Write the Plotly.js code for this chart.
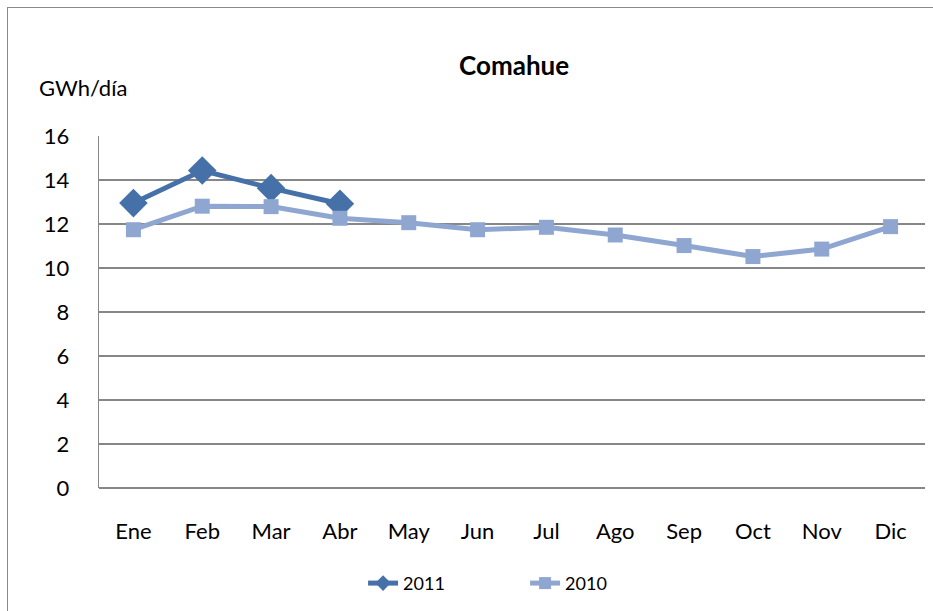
<!DOCTYPE html>
<html>
<head>
<meta charset="utf-8">
<script src="https://cdn.plot.ly/plotly-3.0.1.min.js"></script>
<style>
  html, body { margin: 0; padding: 0; background: #fff; overflow: hidden; }
  #wrap { position: relative; width: 933px; height: 611px; }
  #frame { position: absolute; left: 7px; top: 7px; width: 1000px; height: 700px;
           border-top: 1.5px solid #8a8a8a; border-left: 1.5px solid #8a8a8a; pointer-events: none; z-index: 5; }
  #chart { position: absolute; left: 0; top: 0; width: 933px; height: 611px; }
</style>
</head>
<body>
<div id="wrap">
  <div id="chart"></div>
  <div id="frame"></div>
</div>
<script>
const months = ["Ene","Feb","Mar","Abr","May","Jun","Jul","Ago","Sep","Oct","Nov","Dic"];
const months2011 = ["Ene","Feb","Mar","Abr"];
const values2011 = [12.95, 14.43, 13.63, 12.92];
const values2010 = [11.74, 12.81, 12.79, 12.26, 12.06, 11.74, 11.85, 11.5, 11.02, 10.52, 10.86, 11.88];
const yTicks = [0, 2, 4, 6, 8, 10, 12, 14, 16];

const font = "Lato, Carlito, Calibri, 'Open Sans', sans-serif";

const traces = [
  {
    x: months2011, y: values2011, name: "2011", type: "scatter", mode: "lines+markers",
    line: { color: "#4671a8", width: 5 },
    marker: { symbol: "diamond", size: 22, color: "#4671a8" }
  },
  {
    x: months, y: values2010, name: "2010", type: "scatter", mode: "lines+markers",
    line: { color: "#8fa7d0", width: 5 },
    marker: { symbol: "square", size: 15, color: "#8fa7d0" }
  }
];

const layout = {
  width: 933, height: 611,
  margin: { l: 99, r: 8, t: 136, b: 123 },
  paper_bgcolor: "#fff", plot_bgcolor: "#fff",
  font: { family: font, size: 22, color: "#000" },
  title: { text: "<b>Comahue</b>", font: { family: font, size: 26, color: "#000" },
           x: 0.551, xanchor: "center", y: 0.892, yanchor: "middle" },
  showlegend: true,
  legend: { orientation: "h", x: 0.3197, xanchor: "left", y: -0.271, yanchor: "middle",
            font: { family: font, size: 18 }, entrywidth: 117, entrywidthmode: "pixels",
            traceorder: "normal", itemsizing: "constant" },
  xaxis: {
    type: "category", categoryorder: "array", categoryarray: months,
    range: [-0.5, 11.5], showgrid: false, zeroline: false,
    showline: false, ticks: "", ticklabelstandoff: 28, fixedrange: true
  },
  yaxis: {
    range: [0, 16], tickvals: yTicks, ticktext: yTicks.map(String),
    showgrid: true, gridcolor: "#878787", gridwidth: 1.3,
    zeroline: true, zerolinecolor: "#878787", zerolinewidth: 1.3,
    showline: true, linecolor: "#878787", linewidth: 1.3,
    ticks: "", ticklabelstandoff: 24, fixedrange: true
  },
  annotations: [
    { text: "GWh/día", xref: "paper", yref: "paper", x: -0.0755, y: 1.138, xanchor: "left", yanchor: "middle",
      showarrow: false, font: { family: font, size: 22, color: "#000" } }
  ]
};

Plotly.newPlot("chart", traces, layout, { displayModeBar: false, staticPlot: true });
</script>
</body>
</html>
